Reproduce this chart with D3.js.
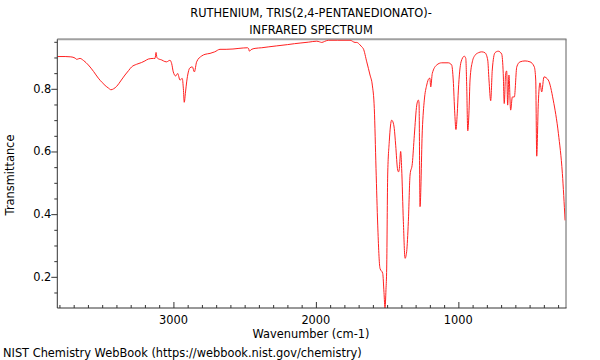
<!DOCTYPE html>
<html>
<head>
<meta charset="utf-8">
<script src="https://cdn.jsdelivr.net/npm/d3@7"></script>
<style>
html,body{margin:0;padding:0;background:#fff;}
svg{display:block;font-family:"DejaVu Sans",sans-serif;}
</style>
</head>
<body>
<svg id="chart" width="600" height="360"></svg>
<script>
const titleLines = ["RUTHENIUM, TRIS(2,4-PENTANEDIONATO)-", "INFRARED SPECTRUM"];
const xLabel = "Wavenumber (cm-1)";
const yLabel = "Transmittance";
const footer = "NIST Chemistry WebBook (https://webbook.nist.gov/chemistry)";

const xTicks = [3000, 2000, 1000];
const yTicks = [0.2, 0.4, 0.6, 0.8];

const wavenumber = [3815,3760,3720,3690,3679,3665,3656,3630,3597,3560,3527,3500,3480,3455,3438,3420,3398,3370,3340,3315,3293,3260,3223,3200,3176,3140,3129,3122,3116,3110,3082,3060,3047,3035,3024,3012,3001,2984,2970,2954,2938,2930,2924,2915,2907,2884,2867,2853,2837,2801,2778,2743,2710,2673,2630,2582,2540,2480,2472,2467,2455,2427,2380,2330,2275,2200,2150,2111,2050,1994,1975,1959,1940,1913,1850,1760,1725,1713,1690,1678,1667,1643,1620,1604,1590,1578,1566,1550,1531,1522,1515,1508,1503,1496,1485,1468,1459,1450,1440,1426,1420,1414,1405,1398,1386,1374,1363,1351,1339,1323,1309,1292,1281,1276,1269,1253,1239,1222,1206,1200,1194,1183,1152,1117,1071,1047,1036,1025,1017,1008,1000,981,958,948,941,934,926,918,902,883,860,836,813,794,785,773,762,743,720,696,685,678,668,661,654,645,633,621,607,590,567,532,497,467,457,450,439,427,415,399,369,334,298,270,251];
const transmittance = [0.903,0.903,0.902,0.898,0.894,0.896,0.897,0.890,0.876,0.855,0.834,0.820,0.811,0.802,0.797,0.800,0.808,0.825,0.844,0.858,0.870,0.878,0.884,0.889,0.895,0.897,0.897,0.916,0.900,0.897,0.892,0.887,0.886,0.889,0.891,0.880,0.854,0.841,0.849,0.828,0.833,0.800,0.757,0.790,0.822,0.867,0.870,0.854,0.886,0.905,0.910,0.913,0.918,0.926,0.926,0.927,0.929,0.931,0.928,0.920,0.925,0.929,0.931,0.934,0.937,0.941,0.944,0.946,0.949,0.952,0.950,0.948,0.951,0.955,0.955,0.955,0.948,0.948,0.940,0.934,0.928,0.886,0.844,0.812,0.737,0.546,0.365,0.227,0.211,0.150,0.100,0.160,0.228,0.525,0.631,0.700,0.694,0.674,0.620,0.541,0.535,0.546,0.600,0.546,0.376,0.259,0.280,0.376,0.525,0.562,0.652,0.748,0.764,0.755,0.424,0.668,0.764,0.812,0.833,0.834,0.806,0.849,0.876,0.883,0.883,0.876,0.828,0.720,0.670,0.720,0.796,0.886,0.904,0.897,0.800,0.666,0.720,0.828,0.886,0.907,0.915,0.918,0.915,0.892,0.828,0.762,0.860,0.915,0.920,0.911,0.849,0.753,0.849,0.857,0.748,0.844,0.732,0.774,0.774,0.870,0.886,0.889,0.886,0.870,0.828,0.585,0.753,0.819,0.790,0.838,0.828,0.764,0.658,0.530,0.380];

const L = 57.3, R = 565.5, T = 39.3, B = 308;
const FS = 11.4;
const svg = d3.select("#chart");

const x = d3.scaleLinear().domain([3815, 248]).range([L, R]);
const y = d3.scaleLinear().domain([0.1005, 0.958]).range([B, T]);

svg.append("clipPath").attr("id","clip").append("rect")
  .attr("x", L).attr("y", T).attr("width", R - L).attr("height", B - T);

// title
svg.append("g").selectAll("text").data(titleLines).join("text")
  .attr("x", 311).attr("y", (d,i) => 17 + i*17)
  .attr("text-anchor","middle").attr("font-size", FS).attr("fill","#000")
  .text(d => d);

// frame top/right
svg.append("line").attr("x1", L).attr("x2", R + 1).attr("y1", T).attr("y2", T)
  .attr("stroke","#a0a0a0").attr("stroke-width", 2);
svg.append("line").attr("x1", R + 0.5).attr("x2", R + 0.5).attr("y1", T).attr("y2", B)
  .attr("stroke","#606060").attr("stroke-width", 1);

// spectrum
const data = wavenumber.map((w,i) => [w, transmittance[i]]);
const line = d3.line().x(d => x(d[0])).y(d => y(d[1])).curve(d3.curveMonotoneX);
svg.append("path").datum(data).attr("d", line)
  .attr("clip-path","url(#clip)")
  .attr("fill","none").attr("stroke","#ff2020").attr("stroke-width", 1);

// x axis (ticks pointing inward)
const xMinor = d3.range(3800, 248, -100);
const xAxis = svg.append("g").attr("transform", `translate(0,${B})`);
xAxis.call(d3.axisBottom(x).tickValues(xMinor).tickSize(-3).tickFormat(""));
xAxis.call(g => g.selectAll(".tick").filter(d => xTicks.includes(d)).select("line").attr("y2", -6));
xAxis.call(g => g.select(".domain").attr("d", `M${L},0H${R + 1}`));
xAxis.selectAll("line").attr("stroke","#333");
xAxis.select(".domain").attr("stroke","#333");
svg.append("g").selectAll("text").data(xTicks).join("text")
  .attr("x", d => x(d)).attr("y", B + 15.5)
  .attr("text-anchor","middle").attr("font-size", FS).attr("fill","#000")
  .text(d => d);

// y axis (ticks pointing outward)
const yMinor = d3.range(0.15, 0.96, 0.05).map(v => +v.toFixed(2));
const yAxis = svg.append("g").attr("transform", `translate(${L},0)`);
yAxis.call(d3.axisLeft(y).tickValues(yMinor).tickSize(3).tickFormat(""));
yAxis.call(g => g.selectAll(".tick").filter(d => yTicks.some(t => Math.abs(t - d) < 1e-6)).select("line").attr("x2", -6));
yAxis.call(g => g.select(".domain").attr("d", `M0,${T}V${B}`));
yAxis.selectAll("line").attr("stroke","#333");
yAxis.select(".domain").attr("stroke","#333");
svg.append("g").selectAll("text").data(yTicks).join("text")
  .attr("x", L - 6).attr("y", d => y(d)).attr("dy", "0.35em")
  .attr("text-anchor","end").attr("font-size", FS).attr("fill","#000")
  .text(d => d.toFixed(1));

// axis labels
svg.append("text").attr("x", 311).attr("y", 337.5).attr("text-anchor","middle")
  .attr("font-size", FS).attr("fill","#000").text(xLabel);
svg.append("text").attr("transform", "translate(14,175) rotate(-90)")
  .attr("text-anchor","middle").attr("font-size", FS).attr("fill","#000").text(yLabel);

// footer
svg.append("text").attr("x", 3).attr("y", 357).attr("font-size", FS).attr("fill","#000").text(footer);
</script>
</body>
</html>
